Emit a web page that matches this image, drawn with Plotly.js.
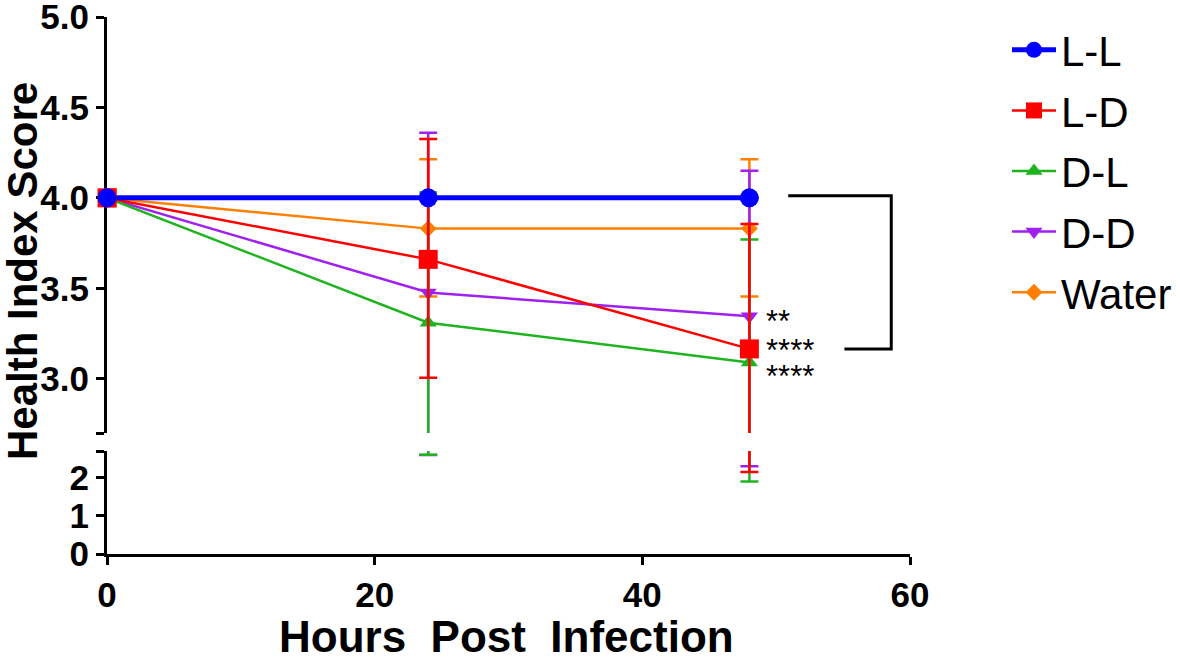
<!DOCTYPE html>
<html><head><meta charset="utf-8">
<script src="https://cdn.plot.ly/plotly-3.0.1.min.js"></script>
<style>html,body{margin:0;padding:0;background:#fff;} #chart{width:1180px;height:660px;}</style>
</head><body><div id="chart"></div>
<script>
// ---- data ----
const hours = [0, 24, 48];
const seriesNames = ['L-L', 'L-D', 'D-L', 'D-D', 'Water'];

const llMean  = [4.00, 4.00, 4.00];
const llPlus  = [0, 0, 0];
const llMinus = [0, 0, 0];

const ldMean  = [4.00, 3.66, 3.165];
const ldPlus  = [0, 0.665, 0.69];
const ldMinus = [0, 0.655, 1.015];

const dlMean  = [4.00, 3.31, 3.09];
const dlPlus  = [0, 0.72, 0.68];
const dlMinus = [0, 0.71, 1.19];

const ddMean  = [4.00, 3.477, 3.345];
const ddPlus  = [0, 0.883, 0.805];
const ddMinus = [0, 0.88, 1.045];

const waterMean  = [4.00, 3.83, 3.83];
const waterPlus  = [0, 0.384, 0.384];
const waterMinus = [0, 0.375, 0.375];

const upperTicks = [2.7, 3.0, 3.5, 4.0, 4.5, 5.0];
const upperTickText = ['', '3.0', '3.5', '4.0', '4.5', '5.0'];
const lowerTicks = [0, 1, 2, 2.7];
const lowerTickText = ['0', '1', '2', ''];
const xTicks = [0, 20, 40, 60];

const sigLabels = ['**', '****', '****'];       // D-D, L-D, D-L at 48 h

// ---- styling ----
const means  = [llMean, ldMean, dlMean, ddMean, waterMean];
const pluses = [llPlus, ldPlus, dlPlus, ddPlus, waterPlus];
const minuses = [llMinus, ldMinus, dlMinus, ddMinus, waterMinus];
const colors = ['#0000ff', '#ff0000', '#1fb41f', '#a020f0', '#ff8000'];
const symbols = ['circle', 'square', 'triangle-up', 'triangle-down', 'diamond'];
const msizes = [19, 19, 15, 15, 13];
const lwidths = [5, 2.5, 2.5, 2.5, 2.5];

const FONT = 'Liberation Sans, Arial, sans-serif';
const drawOrder = [4, 3, 2, 1, 0];
const traces = [];

drawOrder.forEach(i => {
  const eb = {type: 'data', symmetric: false, array: pluses[i], arrayminus: minuses[i],
              color: colors[i], thickness: 2.5, width: 9};
  traces.push({
    x: hours, y: means[i], xaxis: 'x', yaxis: 'y', name: seriesNames[i],
    legendgroup: seriesNames[i], legendrank: i + 1,
    mode: 'lines+markers', line: {color: colors[i], width: lwidths[i]},
    marker: {symbol: symbols[i], size: msizes[i], color: colors[i]},
    error_y: eb, hoverinfo: 'skip'
  });
});
drawOrder.forEach(i => {
  const eb = {type: 'data', symmetric: false, array: pluses[i], arrayminus: minuses[i],
              color: colors[i], thickness: 2.5, width: 9};
  traces.push({
    x: hours, y: means[i], xaxis: 'x', yaxis: 'y2', name: seriesNames[i],
    legendgroup: seriesNames[i], showlegend: false,
    mode: 'lines', line: {color: colors[i], width: lwidths[i]},
    error_y: eb, hoverinfo: 'skip'
  });
});
// start points drawn unclipped so the markers at x = 0 are whole
drawOrder.forEach(i => {
  traces.push({
    x: [hours[0]], y: [means[i][0]], xaxis: 'x', yaxis: 'y',
    legendgroup: seriesNames[i], showlegend: false, cliponaxis: false,
    mode: 'markers', marker: {symbol: symbols[i], size: msizes[i], color: colors[i]},
    hoverinfo: 'skip'
  });
});

const tickFont = {family: FONT, size: 35, color: '#000', weight: 'bold'};
const axisCommon = {
  showline: true, linewidth: 3, linecolor: '#000', ticks: 'outside', ticklen: 8,
  tickwidth: 3, tickcolor: '#000', showgrid: false, zeroline: false,
  tickfont: tickFont, layer: 'below traces', fixedrange: true,
  ticklabeloverflow: 'allow'
};

const L = 107, R = 270, T = 17, B = 106, W = 1180, H = 660;
const pw = W - L - R, ph = H - T - B;
const px2x = p => (p - L) / pw;
const px2y = p => (H - B - p) / ph;

const sigY = [ddMean[2], ldMean[2], dlMean[2]];
const sigShift = [-5, -2, -14];
const annotations = [
  {text: 'Health Index Score', textangle: -90, xref: 'paper', yref: 'paper',
   x: px2x(22), y: px2y(271), xanchor: 'center', yanchor: 'middle', showarrow: false,
   font: {family: FONT, size: 42, color: '#000', weight: 'bold'}},
  {text: 'Hours\u00a0\u00a0Post\u00a0\u00a0Infection', xref: 'paper', yref: 'paper',
   x: px2x(506), y: px2y(636), xanchor: 'center', yanchor: 'middle', showarrow: false,
   font: {family: FONT, size: 44, color: '#000', weight: 'bold'}}
];
sigLabels.forEach((s, k) => annotations.push({
  text: s, xref: 'x', yref: 'y', x: hours[2], y: sigY[k], xanchor: 'left', yanchor: 'middle',
  xshift: 15, yshift: sigShift[k], showarrow: false,
  font: {family: FONT, size: 31, color: '#000'}
}));

const bx0 = hours[2] + 2.9, bx1 = hours[2] + 10.6, bx2 = hours[2] + 7.1;
const shapes = [{
  type: 'path', xref: 'x', yref: 'y',
  path: `M ${bx0},${llMean[2] + 0.012} L ${bx1},${llMean[2] + 0.012} L ${bx1},${ldMean[2]} L ${bx2},${ldMean[2]}`,
  line: {color: '#000', width: 3}
}];

const layout = {
  width: W, height: H, margin: {l: L, r: R, t: T, b: B, autoexpand: false},
  paper_bgcolor: '#fff', plot_bgcolor: '#fff', showlegend: true,
  font: {family: FONT, color: '#000'},
  xaxis: Object.assign({}, axisCommon, {domain: [0, 1], range: [0, 60], anchor: 'y2',
    tickvals: xTicks}),
  yaxis: Object.assign({}, axisCommon, {domain: [px2y(433), 1], range: [2.7, 5.0], anchor: 'x',
    tickvals: upperTicks, ticktext: upperTickText}),
  yaxis2: Object.assign({}, axisCommon, {domain: [0, px2y(451)], range: [0, 2.7], anchor: 'x',
    tickvals: lowerTicks, ticktext: lowerTickText}),
  legend: {x: px2x(1007), y: px2y(16), xanchor: 'left', yanchor: 'top',
    traceorder: 'grouped', tracegroupgap: 3, itemwidth: 44, bgcolor: 'rgba(0,0,0,0)',
    font: {family: FONT, size: 42, color: '#000'}},
  annotations: annotations, shapes: shapes
};

Plotly.newPlot('chart', traces, layout, {displayModeBar: false, staticPlot: true});
</script>
</body></html>
